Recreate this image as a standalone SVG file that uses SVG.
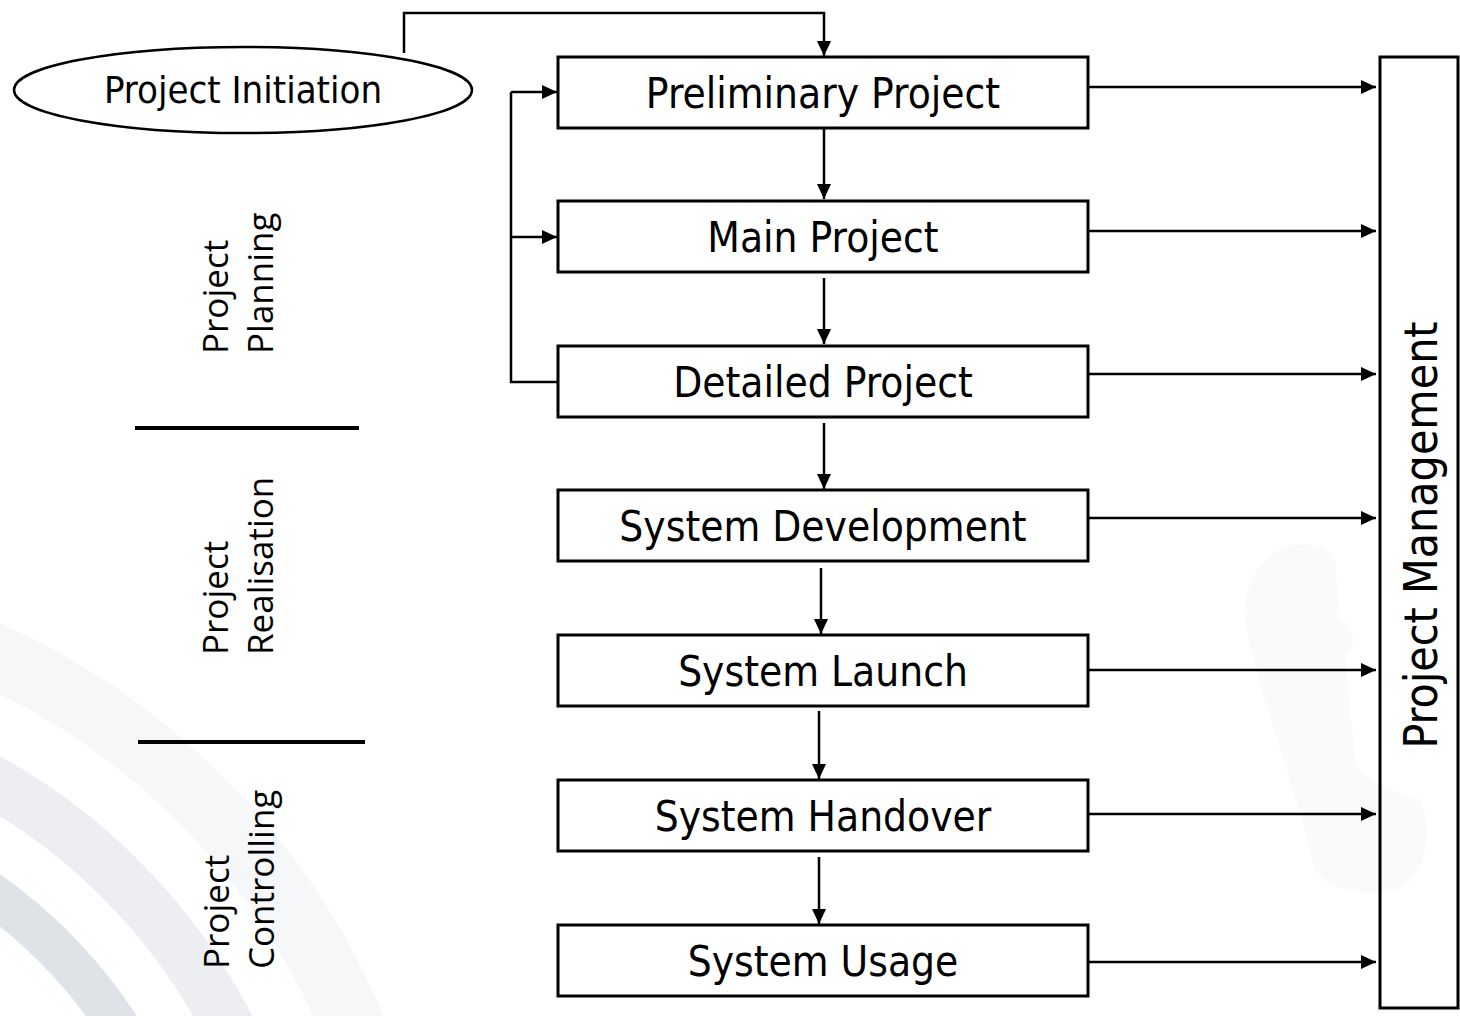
<svg xmlns="http://www.w3.org/2000/svg" width="1460" height="1016" viewBox="0 0 1460 1016">
<defs>
<marker id="arr" markerUnits="userSpaceOnUse" markerWidth="16" markerHeight="14" refX="15" refY="7" orient="auto">
<path d="M0,0 L15,7 L0,14 Z" fill="#000"/>
</marker>
<style>
.box{fill:#fff;stroke:#000;stroke-width:3}
.lbl{font-family:"DejaVu Sans Condensed","DejaVu Sans",sans-serif;fill:#000;text-anchor:middle}
.side{font-family:"Open Sans","Noto Sans",sans-serif;font-size:35px;fill:#000}
.con{fill:none;stroke:#000;stroke-width:2.5}
.arrow{marker-end:url(#arr)}
</style>
</defs>
<rect width="1460" height="1016" fill="#fff"/>
<g id="background">
<circle cx="-300" cy="1300" r="708" fill="none" stroke="#f6f7f9" stroke-width="64"/>
<circle cx="-300" cy="1300" r="595" fill="none" stroke="#eceef1" stroke-width="52"/>
<circle cx="-300" cy="1300" r="500" fill="none" stroke="#dfe3e8" stroke-width="42"/>
<path d="M1285,548 C1310,540 1330,545 1335,560 L1340,620 C1355,625 1358,645 1345,655 L1355,760 C1370,790 1400,790 1420,800 C1435,830 1425,880 1395,890 C1360,895 1330,890 1315,870 C1300,800 1260,700 1245,620 C1242,590 1260,555 1285,548 Z" fill="#fafafb"/>
</g>
<g id="phases">
<line x1="135" y1="428" x2="359" y2="428" stroke="#000" stroke-width="4"/>
<line x1="138" y1="742" x2="365" y2="742" stroke="#000" stroke-width="4"/>
<g id="phase-planning" transform="translate(228,354) rotate(-90)">
<text class="side" x="0" y="0">Project</text>
<text class="side" x="0" y="45">Planning</text>
</g>
<g id="phase-realisation" transform="translate(228,655) rotate(-90)">
<text class="side" x="0" y="0">Project</text>
<text class="side" x="0" y="45">Realisation</text>
</g>
<g id="phase-controlling" transform="translate(229,969) rotate(-90)">
<text class="side" x="0" y="0">Project</text>
<text class="side" x="0" y="45">Controlling</text>
</g>
</g>
<g id="connectors">
<polyline class="con arrow" points="404,53 404,13 824,13 824,56"/>
<polyline class="con" points="558,382 511,382 511,92"/>
<line class="con arrow" x1="511" y1="92" x2="557" y2="92"/>
<line class="con arrow" x1="511" y1="237" x2="557" y2="237"/>
<line class="con arrow" x1="824" y1="129" x2="824" y2="199"/>
<line class="con arrow" x1="824" y1="278" x2="824" y2="344"/>
<line class="con arrow" x1="824" y1="423" x2="824" y2="489"/>
<line class="con arrow" x1="821" y1="568" x2="821" y2="634"/>
<line class="con arrow" x1="819" y1="711" x2="819" y2="779"/>
<line class="con arrow" x1="819" y1="857" x2="819" y2="924"/>
<line class="con arrow" x1="1089" y1="87" x2="1376" y2="87"/>
<line class="con arrow" x1="1089" y1="231" x2="1376" y2="231"/>
<line class="con arrow" x1="1089" y1="374" x2="1376" y2="374"/>
<line class="con arrow" x1="1089" y1="518" x2="1376" y2="518"/>
<line class="con arrow" x1="1089" y1="670" x2="1376" y2="670"/>
<line class="con arrow" x1="1089" y1="814" x2="1376" y2="814"/>
<line class="con arrow" x1="1089" y1="962" x2="1376" y2="962"/>
</g>
<g id="project-initiation">
<ellipse cx="243" cy="90" rx="229" ry="43" fill="#fff" stroke="#000" stroke-width="2.5"/>
<text class="lbl" x="243" y="103" font-size="38">Project Initiation</text>
</g>
<g id="preliminary-project">
<rect class="box" x="558" y="57" width="530" height="71"/>
<text class="lbl" x="823" y="108" font-size="42">Preliminary Project</text>
</g>
<g id="main-project">
<rect class="box" x="558" y="201" width="530" height="71"/>
<text class="lbl" x="823" y="252" font-size="42">Main Project</text>
</g>
<g id="detailed-project">
<rect class="box" x="558" y="346" width="530" height="71"/>
<text class="lbl" x="823" y="397" font-size="42">Detailed Project</text>
</g>
<g id="system-development">
<rect class="box" x="558" y="490" width="530" height="71"/>
<text class="lbl" x="823" y="541" font-size="42">System Development</text>
</g>
<g id="system-launch">
<rect class="box" x="558" y="635" width="530" height="71"/>
<text class="lbl" x="823" y="686" font-size="42">System Launch</text>
</g>
<g id="system-handover">
<rect class="box" x="558" y="780" width="530" height="71"/>
<text class="lbl" x="823" y="831" font-size="42">System Handover</text>
</g>
<g id="system-usage">
<rect class="box" x="558" y="925" width="530" height="71"/>
<text class="lbl" x="823" y="976" font-size="42">System Usage</text>
</g>
<g id="project-management">
<rect x="1380" y="57" width="78" height="951" fill="none" stroke="#000" stroke-width="3"/>
<text class="lbl" transform="translate(1437,535) rotate(-90)" x="0" y="0" font-size="46">Project Management</text>
</g>
</svg>
